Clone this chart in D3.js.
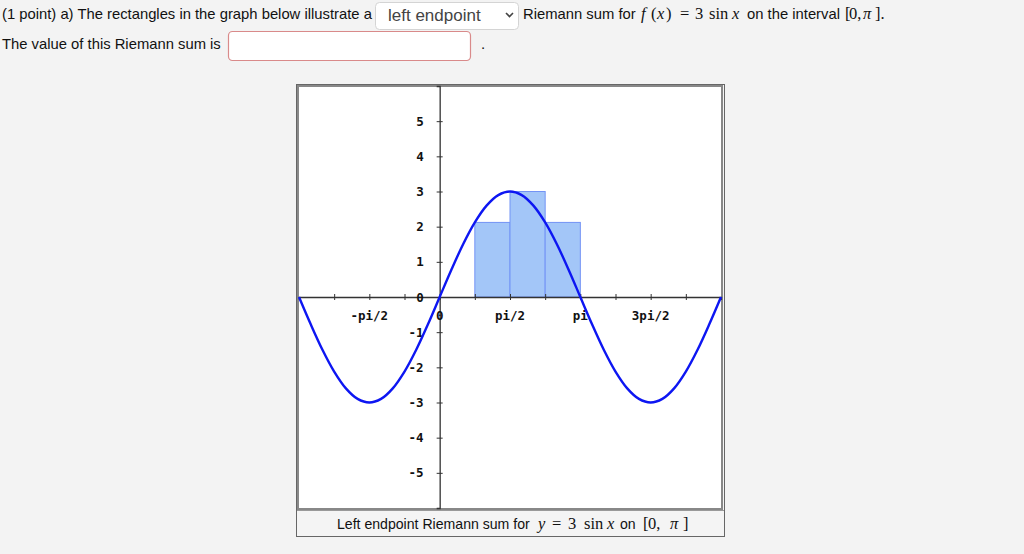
<!DOCTYPE html>
<html>
<head>
<meta charset="utf-8">
<script src="https://cdn.jsdelivr.net/npm/d3@7"></script>
<style>
  body { margin: 0; background: #f3f3f3; }
  svg { display: block; }
</style>
</head>
<body>
<script>
const PI = Math.PI;

// curve samples of y = 3 sin x, read every pi/12 from -pi to 2pi
const curveX = d3.range(-12, 25).map(k => k * PI / 12);
const curveY = [0, -0.776, -1.5, -2.121, -2.598, -2.898, -3, -2.898, -2.598, -2.121, -1.5, -0.776,
  0, 0.776, 1.5, 2.121, 2.598, 2.898, 3, 2.898, 2.598, 2.121, 1.5, 0.776,
  0, -0.776, -1.5, -2.121, -2.598, -2.898, -3, -2.898, -2.598, -2.121, -1.5, -0.776, 0];

// left endpoint rectangles on [0, pi], 4 subintervals
const rectLeft = [0, PI / 4, PI / 2, 3 * PI / 4];
const rectHeight = [0, 2.121, 3, 2.121];
const rectWidth = PI / 4;

// ticks
const xTicks = d3.range(-3, 8).map(k => k * PI / 4);
const xLabelVals = [-PI / 2, 0, PI / 2, PI, 3 * PI / 2];
const xLabels = ["-pi/2", "0", "pi/2", "pi", "3pi/2"];
const yTicks = [-5, -4, -3, -2, -1, 0, 1, 2, 3, 4, 5];

const W = 1024, H = 554;
let svg = d3.select("body").append("svg").attr("width", W).attr("height", H);

const sans = "'Liberation Sans', Arial, sans-serif";
const serif = "'Liberation Serif', 'DejaVu Serif', serif";

// write a run of text pieces, each at its own x (sans text and serif math)
function textRun(y, size, pieces) {
  let t = svg.append("text").attr("y", y).attr("fill", "#111");
  pieces.forEach(p => {
    let s = t.append("tspan").attr("x", p[1]).text(p[0]);
    if (p[2]) {
      s.attr("font-family", serif).attr("font-size", 16.5);
      if (p[2] === "i") s.attr("font-style", "italic");
    } else {
      s.attr("font-family", sans).attr("font-size", size);
    }
  });
  return t;
}

// ---- question text ----
textRun(19, 14.8, [["(1 point) a) The rectangles in the graph below illustrate a", 2]]);

// select box
svg.append("rect").attr("x", 375.5).attr("y", 2.5).attr("width", 143).attr("height", 27)
  .attr("rx", 4).attr("fill", "#fff").attr("stroke", "#d4d4d4");
svg.append("text").attr("x", 388).attr("y", 21)
  .attr("font-family", sans).attr("font-size", 17).attr("fill", "#444").text("left endpoint");
svg.append("path").attr("d", "M506,13 l3.5,3.5 l3.5,-3.5")
  .attr("fill", "none").attr("stroke", "#444").attr("stroke-width", 1.6);

textRun(19, 14.8, [
  ["Riemann sum for", 523],
  ["f", 641, "i"], ["(", 651, "r"], ["x", 657, "i"], [")", 666, "r"],
  ["=", 680, "r"], ["3", 695, "r"], ["sin", 709, "r"], ["x", 732, "i"],
  ["on the interval", 747],
  ["[", 845, "r"], ["0,", 849, "r"], ["π", 863, "i"], ["].", 875, "r"]
]);

textRun(49, 14.8, [["The value of this Riemann sum is", 2]]);
svg.append("rect").attr("x", 228.5).attr("y", 31.5).attr("width", 242).attr("height", 29)
  .attr("rx", 4).attr("fill", "#fff").attr("stroke", "#d98a8a").attr("stroke-width", 1.2);
svg.append("text").attr("x", 481).attr("y", 49)
  .attr("font-family", sans).attr("font-size", 15).attr("fill", "#111").text(".");

// ---- graph frame ----
svg.append("rect").attr("x", 296.5).attr("y", 84.5).attr("width", 428).attr("height", 452)
  .attr("fill", "#f4f4f4").attr("stroke", "#666").attr("stroke-width", 1);
svg.append("rect").attr("x", 298).attr("y", 86).attr("width", 424).attr("height", 423)
  .attr("fill", "#fff").attr("stroke", "#888").attr("stroke-width", 2);

const x = d3.scaleLinear().domain([-PI, 2 * PI]).range([299, 721]);
const y = d3.scaleLinear().domain([-6, 6]).range([508, 86]);

let plot = svg.append("g");

// rectangles
plot.selectAll("rect.riemann").data(rectLeft).join("rect")
  .attr("class", "riemann")
  .attr("x", d => x(d))
  .attr("y", (d, i) => y(rectHeight[i]))
  .attr("width", d => x(d + rectWidth) - x(d))
  .attr("height", (d, i) => y(0) - y(rectHeight[i]))
  .attr("fill", "#a3c6f8")
  .attr("stroke", "#7393f5")
  .attr("stroke-width", 1);

// x axis
let xAxis = plot.append("g").attr("transform", `translate(0,${y(0)})`)
  .call(d3.axisBottom(x).tickValues(xTicks).tickSize(3).tickFormat(""));
xAxis.select(".domain").attr("stroke", "#333").attr("stroke-width", 1.3);
xAxis.selectAll(".tick line").attr("y1", -3).attr("y2", 3).attr("stroke", "#333");

// y axis
let yAxis = plot.append("g").attr("transform", `translate(${x(0)},0)`)
  .call(d3.axisLeft(y).tickValues(yTicks).tickSize(3).tickFormat(""));
yAxis.select(".domain").attr("stroke", "#333").attr("stroke-width", 1.3);
yAxis.selectAll(".tick line").attr("x1", -3).attr("x2", 3).attr("stroke", "#333");

const labFont = "'DejaVu Sans Mono', monospace";

plot.selectAll("text.xl").data(xLabelVals).join("text")
  .attr("class", "xl")
  .attr("x", d => x(d))
  .attr("y", y(0) + 23)
  .attr("text-anchor", "middle")
  .attr("font-family", labFont).attr("font-weight", "bold").attr("font-size", 12.5)
  .attr("fill", "#111")
  .text((d, i) => xLabels[i]);

plot.selectAll("text.yl").data(yTicks).join("text")
  .attr("class", "yl")
  .attr("x", x(0) - 16)
  .attr("y", d => y(d) + 4.5)
  .attr("text-anchor", "end")
  .attr("font-family", labFont).attr("font-weight", "bold").attr("font-size", 12.5)
  .attr("fill", "#111")
  .text(d => d);

// curve
const line = d3.line().x(d => x(d[0])).y(d => y(d[1])).curve(d3.curveCatmullRom);
plot.append("path")
  .datum(curveX.map((v, i) => [v, curveY[i]]))
  .attr("d", line)
  .attr("fill", "none")
  .attr("stroke", "#0d16f2")
  .attr("stroke-width", 2.4)
  .attr("stroke-linejoin", "round");

// caption
svg.append("line").attr("x1", 297).attr("x2", 724).attr("y1", 510.5).attr("y2", 510.5)
  .attr("stroke", "#999");
textRun(529, 14.1, [
  ["Left endpoint Riemann sum for", 337],
  ["y", 538, "i"], ["=", 552, "r"], ["3", 568, "r"], ["sin", 584, "r"], ["x", 607, "i"],
  ["on", 620],
  ["[", 643, "r"], ["0,", 648, "r"], ["π", 670, "i"], ["]", 683, "r"]
]);
</script>
</body>
</html>
